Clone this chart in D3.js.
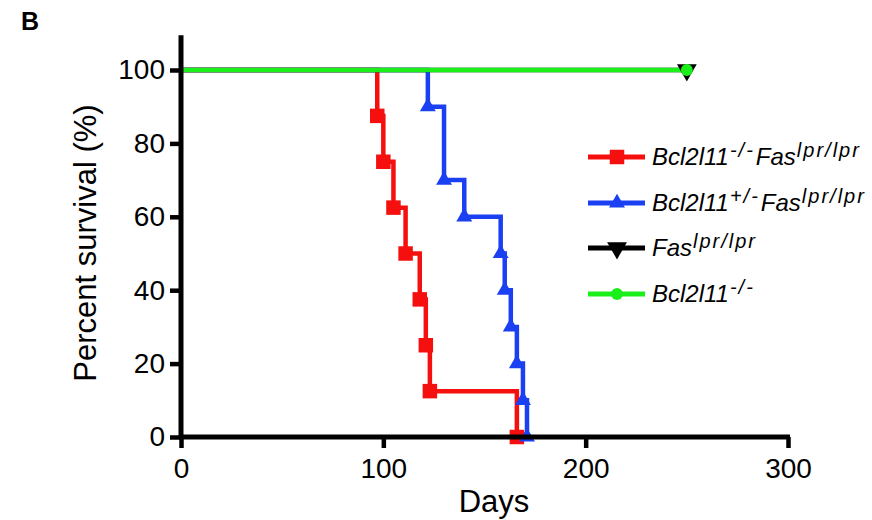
<!DOCTYPE html>
<meta charset="utf-8">
<style>
html, body { margin: 0; background: #fff; }
text { font-family: "Liberation Sans", Arial, Helvetica, sans-serif; }
</style>
<body>
<svg width="872" height="520"></svg>
<script src="https://d3js.org/d3.v7.min.js"></script>
<script>

// survival data (days, percent survival)
var redDays  = [0, 97, 100, 105, 111, 118, 121, 123, 166];
var redSurv  = [100, 87.5, 75, 62.5, 50, 37.5, 25, 12.5, 0];
var blueDays = [0, 122, 130, 140, 158, 160, 163, 166, 169, 171];
var blueSurv = [100, 90, 70, 60, 50, 40, 30, 20, 10, 0];
var blackDays = [0, 250];
var blackSurv = [100, 100];
var greenDays = [0, 250];
var greenSurv = [100, 100];

var xTicks = [0, 100, 200, 300];
var yTicks = [0, 20, 40, 60, 80, 100];

var series = [
    {name: "red",   days: redDays,   surv: redSurv,   colour: "#f50f0f", symbol: d3.symbolSquare,   size: 210, rot: 0},
    {name: "blue",  days: blueDays,  surv: blueSurv,  colour: "#1a40f2", symbol: d3.symbolTriangle, size: 110, rot: 0},
    {name: "black", days: blackDays, surv: blackSurv, colour: "#000000", symbol: d3.symbolTriangle, size: 170, rot: 180},
    {name: "green", days: greenDays, surv: greenSurv, colour: "#1aef1a", symbol: d3.symbolCircle,   size: 110, rot: 0}
];

var svg = d3.select("svg");

var x = d3.scaleLinear().domain([0, 300]).range([181, 788]);
var y = d3.scaleLinear().domain([0, 100]).range([437, 70]);

// panel letter
svg.append("text")
    .attr("x", 21).attr("y", 30)
    .style("font-weight", "bold").style("font-size", "25px")
    .text("B");

// curves: green last so it sits on top of the 100% line
var line = d3.line()
    .x(function(d) { return x(d[0]); })
    .y(function(d) { return y(d[1]); })
    .curve(d3.curveStepAfter);

series.forEach(function(s){
    var pts = d3.zip(s.days, s.surv);
    svg.append("path")
        .datum(pts)
        .attr("fill", "none")
        .attr("stroke", s.colour)
        .attr("stroke-width", 4.5)
        .attr("d", line);
});

// markers at each event (not at day 0)
series.forEach(function(s){
    var pts = d3.zip(s.days, s.surv).slice(1);
    svg.selectAll(null)
        .data(pts)
        .enter().append("path")
        .attr("d", d3.symbol().type(s.symbol).size(s.size))
        .attr("fill", s.colour)
        .attr("transform", function(d){
            return "translate(" + x(d[0]) + "," + y(d[1]) + ") rotate(" + s.rot + ")";
        });
});

// axes
var xAxis = svg.append("g")
    .attr("transform", "translate(0," + y(0) + ")")
    .call(d3.axisBottom(x).tickValues(xTicks).tickSize(11).tickSizeOuter(0).tickPadding(10));
var yAxis = svg.append("g")
    .attr("transform", "translate(" + x(0) + ",0)")
    .call(d3.axisLeft(y).tickValues(yTicks).tickSize(11).tickSizeOuter(0).tickPadding(5));

[xAxis, yAxis].forEach(function(a){
    a.select(".domain").remove();
    a.selectAll(".tick line").attr("stroke", "#000").attr("stroke-width", 4.5);
    a.selectAll(".tick text").attr("fill", "#000").style("font-size", "28px");
});

// axis lines
svg.append("line")
    .attr("x1", x(0) - 2).attr("x2", x(300) + 2)
    .attr("y1", y(0)).attr("y2", y(0))
    .attr("stroke", "#000").attr("stroke-width", 5);
svg.append("line")
    .attr("x1", x(0)).attr("x2", x(0))
    .attr("y1", y(0) + 2).attr("y2", y(109.5))
    .attr("stroke", "#000").attr("stroke-width", 5);

// axis titles
svg.append("text")
    .attr("x", 494).attr("y", 512)
    .attr("text-anchor", "middle")
    .style("font-size", "31px")
    .text("Days");
svg.append("text")
    .attr("transform", "translate(96,243) rotate(-90)")
    .attr("text-anchor", "middle")
    .style("font-size", "31px")
    .text("Percent survival (%)");

// legend
var legendItems = [
    {s: series[0], parts: [["Bcl2l11", false], ["-/-", true], ["Fas", false], ["lpr/lpr", true]]},
    {s: series[1], parts: [["Bcl2l11", false], ["+/-", true], ["Fas", false], ["lpr/lpr", true]]},
    {s: series[2], parts: [["Fas", false], ["lpr/lpr", true]]},
    {s: series[3], parts: [["Bcl2l11", false], ["-/-", true]]}
];
var legendY = [157, 203, 248, 294];

legendItems.forEach(function(item, i){
    var g = svg.append("g").attr("transform", "translate(588," + legendY[i] + ")");
    g.append("line")
        .attr("x1", 0).attr("x2", 57)
        .attr("stroke", item.s.colour).attr("stroke-width", 5);
    g.append("path")
        .attr("d", d3.symbol().type(item.s.symbol).size(item.s.size))
        .attr("fill", item.s.colour)
        .attr("transform", "translate(29,0) rotate(" + item.s.rot + ")");
    var t = g.append("text")
        .attr("x", 63).attr("y", 8)
        .style("font-style", "italic").style("font-size", "24px");
    var raised = false;
    item.parts.forEach(function(p){
        var dy = 0;
        if (p[1] && !raised) dy = -8;
        if (!p[1] && raised) dy = 8;
        raised = p[1];
        t.append("tspan")
            .attr("dy", dy)
            .attr("dx", p[1] ? 1 : 1)
            .style("font-size", p[1] ? "20px" : "24px")
            .style("letter-spacing", p[1] ? "2px" : "0px")
            .text(p[0]);
    });
});
</script>
</body>
